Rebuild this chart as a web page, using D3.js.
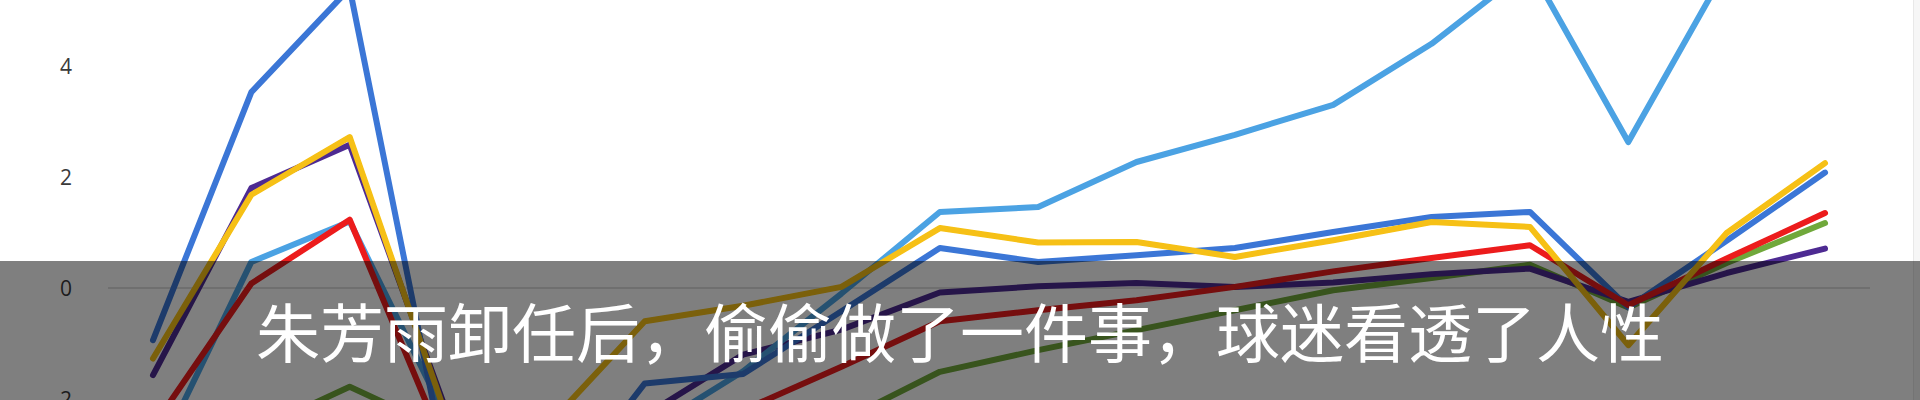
<!DOCTYPE html>
<html>
<head>
<meta charset="utf-8">
<script src="https://cdn.jsdelivr.net/npm/d3@7/dist/d3.min.js"></script>
<style>
html,body{margin:0;padding:0;background:#fff;overflow:hidden;}
svg{display:block;}
</style>
</head>
<body>
<svg id="chart" width="1920" height="400"></svg>
<script>
const categories = ["1","2","3","4","5","6","7","8","9","10","11","12","13","14","15","16","17","18"];
const yTicks = [-2, 0, 2, 4];
const darkBlue  = [-0.94, 3.53, 5.4, -3.4, -4.0, -1.72, -1.55, -0.42, 0.72, 0.47, 0.59, 0.72, 1.01, 1.28, 1.37, -0.35, 0.85, 2.08];
const lightBlue = [-3.2, 0.47, 1.2, -2.4, -3.0, -2.6, -1.5, -0.1, 1.37, 1.46, 2.27, 2.76, 3.3, 4.4, 5.78, 2.63, 5.77, 6.2];
const yellow    = [-1.27, 1.68, 2.72, -2.4, -2.5, -0.6, -0.32, 0.02, 1.08, 0.82, 0.83, 0.56, 0.86, 1.19, 1.1, -1.03, 0.99, 2.25];
const red       = [-2.5, 0.08, 1.23, -3.0, -3.2, -2.8, -2.2, -1.42, -0.6, -0.4, -0.22, 0.02, 0.3, 0.54, 0.77, -0.31, 0.53, 1.35];
const purple    = [-1.57, 1.8, 2.58, -2.3, -2.7, -2.3, -1.2, -0.75, -0.08, 0.03, 0.09, 0.02, 0.1, 0.25, 0.35, -0.25, 0.27, 0.71];
const green     = [-3.0, -2.6, -1.78, -2.6, -3.0, -3.0, -2.8, -2.4, -1.51, -1.12, -0.76, -0.4, -0.04, 0.18, 0.42, -0.35, 0.45, 1.17];
const caption = "朱芳雨卸任后，偷偷做了一件事，球迷看透了人性";

const seriesList = [
  {name:"green", values:green, color:"#6fa83a"},
  {name:"purple", values:purple, color:"#4e2a92"},
  {name:"lightBlue", values:lightBlue, color:"#4ba2e3"},
  {name:"darkBlue", values:darkBlue, color:"#3a76d6"},
  {name:"red", values:red, color:"#ec1a1c"},
  {name:"yellow", values:yellow, color:"#f6c012"}
];

const svg = d3.select("#chart");
const x = d3.scalePoint().domain(categories).range([153, 1825]);
const y = d3.scaleLinear().domain([0, 4]).range([288, 66]);

const defs = svg.append("defs");
defs.append("filter").attr("id","soft").append("feGaussianBlur").attr("stdDeviation",0.6);

// zero line
svg.append("line")
  .attr("x1",108).attr("x2",1870)
  .attr("y1",y(0)).attr("y2",y(0))
  .attr("stroke","#d4d4d4").attr("stroke-width",1.5);

// y axis labels
const yAxis = d3.axisLeft(y).tickValues(yTicks).tickSize(0).tickPadding(0)
  .tickFormat(d => d < 0 ? "-" + Math.abs(d) : String(d));
const ag = svg.append("g").attr("transform","translate(72,0)").call(yAxis);
ag.select(".domain").remove();
ag.selectAll("text")
  .attr("font-family","'Open Sans', 'Liberation Sans', Arial, sans-serif")
  .attr("font-size",21)
  .attr("fill","#3a3a3a")
  .attr("dy","0.36em");

// lines
const line = d3.line().x((d,i) => x(categories[i])).y(d => y(d));
const lg = svg.append("g").attr("filter","url(#soft)");
seriesList.forEach(s => {
  lg.append("path")
    .datum(s.values)
    .attr("d", line)
    .attr("fill","none")
    .attr("stroke", s.color)
    .attr("stroke-width", 6)
    .attr("stroke-linejoin","round")
    .attr("stroke-linecap","round");
});

// right edge strip
svg.append("rect").attr("x",1913).attr("y",0).attr("width",7).attr("height",400).attr("fill","#f6f6f6");
svg.append("line").attr("x1",1913.5).attr("x2",1913.5).attr("y1",0).attr("y2",400).attr("stroke","#e8e8e8");

// caption band
svg.append("rect").attr("x",0).attr("y",261).attr("width",1920).attr("height",139)
  .attr("fill","rgba(0,0,0,0.5)");
svg.append("text")
  .attr("x",960).attr("y",357)
  .attr("text-anchor","middle")
  .attr("font-family","'Noto Sans CJK SC', 'Noto Sans', sans-serif")
  .attr("font-size",64)
  .attr("fill","#fff")
  .text(caption);
</script>
</body>
</html>
